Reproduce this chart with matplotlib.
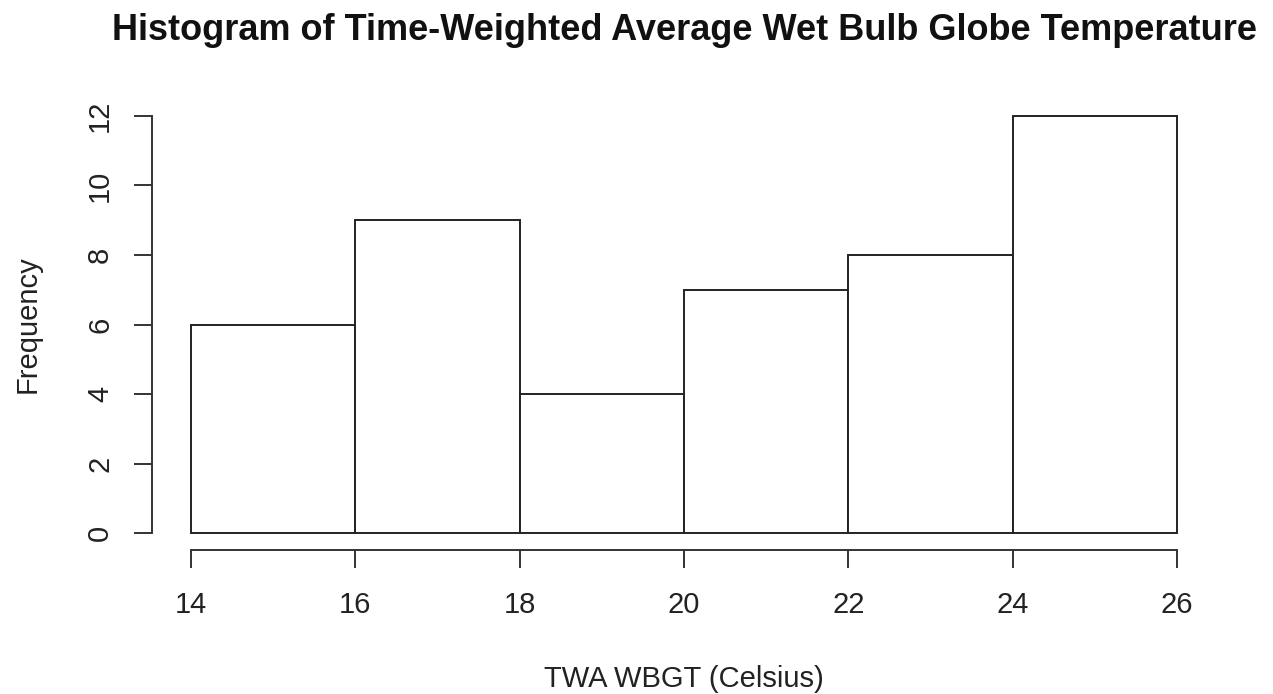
import matplotlib.pyplot as plt

# Histogram data (bin edges and counts)
bin_edges = [14, 16, 18, 20, 22, 24, 26]
counts = [6, 9, 4, 7, 8, 12]
x_ticks = [14, 16, 18, 20, 22, 24, 26]
y_ticks = [0, 2, 4, 6, 8, 10, 12]

plt.rcParams['font.family'] = ['Liberation Sans', 'DejaVu Sans']

W, H = 1273, 694
fig = plt.figure(figsize=(W / 100, H / 100), dpi=100)
left, right, top, bottom = 151.6, 1216.4, 99.3, 549.7
ax = fig.add_axes([left / W, 1 - bottom / H, (right - left) / W, (bottom - top) / H])

widths = [b - a for a, b in zip(bin_edges[:-1], bin_edges[1:])]
ax.bar(bin_edges[:-1], counts, width=widths, align='edge',
       facecolor='white', edgecolor='#222222', linewidth=1.4)

ax.set_xlim(13.52, 26.48)
ax.set_ylim(-0.48, 12.48)
ax.set_xticks(x_ticks)
ax.set_yticks(y_ticks)

for s in ['top', 'right']:
    ax.spines[s].set_visible(False)
ax.spines['left'].set_bounds(0, 12)
ax.spines['bottom'].set_bounds(14, 26)
for s in ['left', 'bottom']:
    ax.spines[s].set_linewidth(1.4)
    ax.spines[s].set_color('#333333')

ax.tick_params(axis='both', direction='out', length=13, width=1.4,
               color='#333333', labelsize=21, labelcolor='#222222')
ax.tick_params(axis='x', pad=17)
ax.tick_params(axis='y', pad=14)
for lbl in ax.get_yticklabels():
    lbl.set_rotation(90)
    lbl.set_va('center')

ax.set_xlabel('TWA WBGT (Celsius)', fontsize=21, color='#222222')
ax.xaxis.set_label_coords(0.5, -(679 - bottom) / (bottom - top), transform=ax.transAxes)
ax.xaxis.label.set_va('center')
ax.set_ylabel('Frequency', fontsize=21, color='#222222')
ax.yaxis.set_label_coords(-(left - 28) / (right - left), 0.5, transform=ax.transAxes)
ax.yaxis.label.set_va('center')

fig.text((left + right) / 2 / W, 1 - 30 / H,
         'Histogram of Time-Weighted Average Wet Bulb Globe Temperature',
         ha='center', va='center', fontsize=26, fontweight='bold', color='#111111')

fig.savefig('out.png', dpi=100, facecolor='white')
